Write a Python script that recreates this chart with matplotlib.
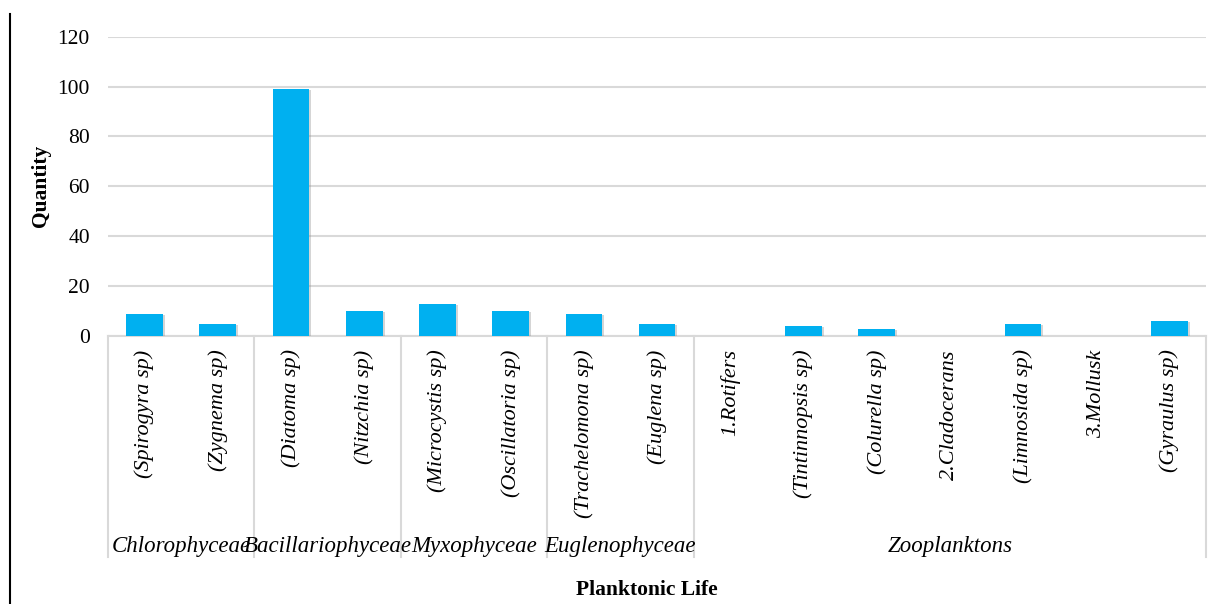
import matplotlib
matplotlib.use("Agg")
import matplotlib.pyplot as plt
from matplotlib.lines import Line2D
import matplotlib.patheffects as pe

# Species counted, grouped by class
species = [
    "(Spirogyra sp)", "(Zygnema sp)",
    "(Diatoma sp)", "(Nitzchia sp)",
    "(Microcystis sp)", "(Oscillatoria sp)",
    "(Trachelomona sp)", "(Euglena sp)",
    "1.Rotifers", "(Tintinnopsis sp)", "(Colurella sp)", "2.Cladocerans",
    "(Limnosida sp)", "3.Mollusk", "(Gyraulus sp)",
]
quantity = [9, 5, 99, 10, 13, 10, 9, 5, 0, 4, 3, 0, 5, 0, 6]
groups = ["Chlorophyceae", "Bacillariophyceae", "Myxophyceae", "Euglenophyceae", "Zooplanktons"]
group_sizes = [2, 2, 2, 2, 7]
y_ticks = [0, 20, 40, 60, 80, 100, 120]

BAR_COLOR = "#00b0f0"
GRID_COLOR = "#d9d9d9"
SERIF = ["Liberation Serif", "DejaVu Serif"]

plt.rcParams["font.family"] = SERIF

fig = plt.figure(figsize=(12.27, 6.04), dpi=100)
ax = fig.add_axes([0.088, 0.4437, 0.895, 0.4955])

x = list(range(len(species)))
bars = ax.bar(x, quantity, width=0.5, color=BAR_COLOR, zorder=3)
for b in bars:
    b.set_path_effects([pe.SimplePatchShadow(offset=(1.5, -1), shadow_rgbFace="#888888", alpha=0.35),
                        pe.Normal()])

ax.set_xlim(-0.5, len(species) - 0.5)
ax.set_ylim(0, 120)
ax.set_yticks(y_ticks)
ax.set_yticklabels([str(v) for v in y_ticks], fontsize=15.5)
ax.tick_params(axis="y", length=0, pad=13)
ax.set_xticks([])
ax.grid(axis="y", color=GRID_COLOR, linewidth=1.5, zorder=0)
for s in ["top", "right", "left"]:
    ax.spines[s].set_visible(False)
ax.spines["bottom"].set_color(GRID_COLOR)
ax.spines["bottom"].set_linewidth(1.5)

ax.set_ylabel("Quantity", fontsize=15.5, fontweight="bold")
ax.yaxis.set_label_coords(-0.052, 0.5)

# category table below the axis
trans = ax.get_xaxis_transform()
for i, name in enumerate(species):
    ax.text(i, -0.045, name, transform=trans, rotation=90, ha="center", va="top",
            fontsize=16, style="italic", clip_on=False)

edge = -0.5
bounds = [edge]
for g, n in zip(groups, group_sizes):
    ax.text(edge + n / 2, -0.705, g, transform=trans, ha="center", va="center",
            fontsize=16.5, style="italic", clip_on=False)
    edge += n
    bounds.append(edge)
for b in bounds:
    ax.add_line(Line2D([b, b], [0, -0.738], transform=trans, color=GRID_COLOR,
                       linewidth=1.5, clip_on=False))

fig.text(0.527, 0.023, "Planktonic Life", ha="center", va="center",
         fontsize=15.5, fontweight="bold")

# page margin rule on the left
fig.add_artist(Line2D([0.0085, 0.0085], [0, 0.977], transform=fig.transFigure,
                      color="black", linewidth=1.5))

fig.savefig("out.png", dpi=100)
